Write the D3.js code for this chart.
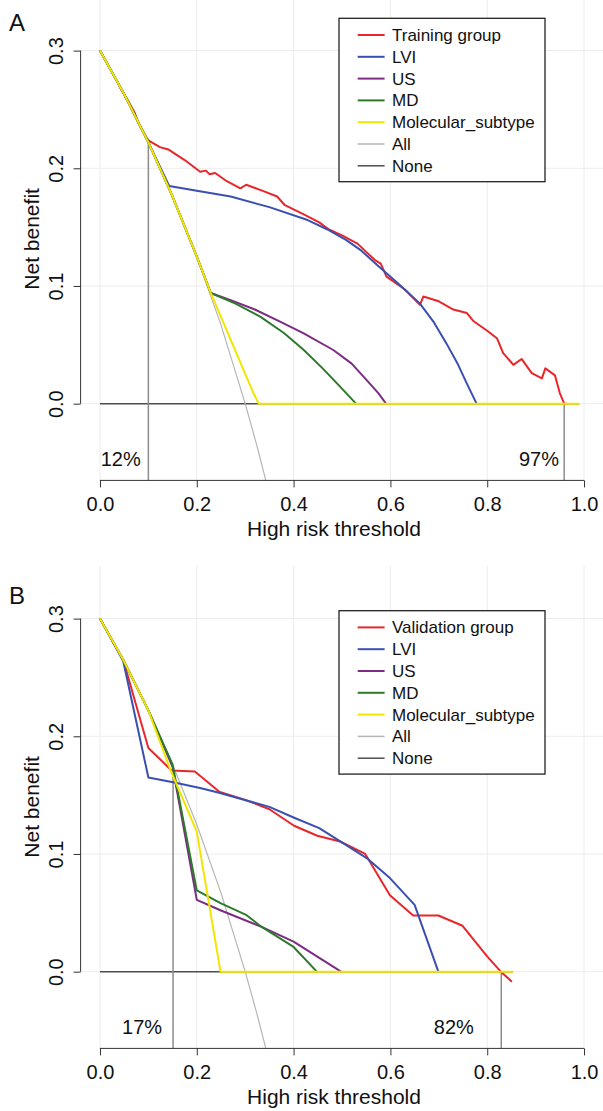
<!DOCTYPE html>
<html>
<head>
<meta charset="utf-8">
<script src="https://cdn.jsdelivr.net/npm/d3@7"></script>
<style>
  body { margin: 0; background: #fff; }
  svg { display: block; font-family: 'Liberation Sans', Arial, Helvetica, sans-serif; }
</style>
</head>
<body>
<svg id="chart"></svg>
<script>
const xTicks = [0, 0.2, 0.4, 0.6, 0.8, 1.0];
const yTicks = [0, 0.1, 0.2, 0.3];
const modelNames = ['LVI', 'US', 'MD', 'Molecular_subtype'];
const refNames = ['All', 'None'];

// panel A, training set  [threshold, net benefit]
const trainingA = [[0.041,0.269],[0.06,0.256],[0.072,0.247],[0.08,0.238],[0.099,0.224],[0.124,0.218],[0.141,0.216],[0.175,0.207],
  [0.207,0.197],[0.219,0.198],[0.226,0.195],[0.238,0.196],[0.262,0.189],[0.290,0.183],[0.302,0.186],[0.335,0.181],[0.366,0.176],
  [0.381,0.169],[0.42,0.161],[0.453,0.154],[0.473,0.148],[0.50,0.143],[0.532,0.136],[0.568,0.122],[0.580,0.119],[0.592,0.108],
  [0.63,0.097],[0.661,0.084],[0.668,0.091],[0.70,0.087],[0.730,0.080],[0.758,0.077],[0.772,0.070],[0.80,0.062],[0.820,0.0556],
  [0.833,0.043],[0.854,0.033],[0.871,0.038],[0.892,0.026],[0.913,0.0215],[0.920,0.030],[0.940,0.024],[0.950,0.009],[0.959,0],[0.965,0]];
const lviA = [[0,0.3],[0.05,0.263],[0.1,0.222],[0.143,0.185],[0.2,0.181],[0.27,0.176],[0.35,0.167],[0.429,0.156],[0.47,0.148],
  [0.509,0.139],[0.54,0.130],[0.572,0.118],[0.616,0.102],[0.661,0.085],[0.69,0.069],[0.716,0.051],[0.74,0.033],[0.758,0.017],[0.778,0]];
const usA = [[0,0.3],[0.05,0.263],[0.1,0.222],[0.15,0.176],[0.2,0.125],[0.229,0.094],[0.27,0.088],[0.32,0.080],[0.372,0.0697],
  [0.42,0.060],[0.482,0.0456],[0.52,0.034],[0.551,0.020],[0.575,0.009],[0.591,0]];
const mdA = [[0,0.3],[0.05,0.263],[0.1,0.222],[0.15,0.176],[0.2,0.125],[0.229,0.094],[0.28,0.085],[0.331,0.074],[0.38,0.060],
  [0.42,0.046],[0.46,0.030],[0.496,0.0145],[0.529,0]];
const molA = [[0,0.3],[0.05,0.263],[0.1,0.222],[0.15,0.176],[0.2,0.125],[0.229,0.094],[0.317,0.009],[0.328,0],[0.99,0]];
const allA = [[0,0.3],[0.05,0.263],[0.1,0.222],[0.15,0.176],[0.2,0.125],[0.25,0.067],[0.3,0],[0.325,-0.037],[0.35,-0.077]];
const noneA = [[0,0],[0.99,0]];
const cutA = [0.1, 0.959];
const cutTopA = [0.225, 0];
const cutLabelA = ['12%', '97%'];

// panel B, validation set
const validationB = [[0.048,0.265],[0.1,0.190],[0.148,0.171],[0.196,0.170],[0.246,0.153],[0.3,0.146],[0.35,0.138],[0.401,0.124],
  [0.449,0.1155],[0.496,0.1106],[0.548,0.100],[0.599,0.065],[0.647,0.0477],[0.699,0.0477],[0.749,0.039],[0.799,0.0134],
  [0.828,0],[0.851,-0.0085]];
const lviB = [[0,0.3],[0.048,0.264],[0.1,0.165],[0.151,0.161],[0.207,0.156],[0.246,0.152],[0.35,0.140],[0.4,0.131],[0.453,0.122],
  [0.503,0.109],[0.551,0.0965],[0.599,0.0795],[0.650,0.0568],[0.699,0]];
const usB = [[0,0.3],[0.048,0.265],[0.1,0.222],[0.15,0.174],[0.2,0.061],[0.25,0.052],[0.334,0.038],[0.4,0.0255],[0.498,0]];
const mdB = [[0,0.3],[0.048,0.265],[0.1,0.222],[0.15,0.176],[0.2,0.069],[0.25,0.058],[0.303,0.048],[0.334,0.038],[0.4,0.021],[0.448,0]];
const molB = [[0,0.3],[0.048,0.265],[0.1,0.222],[0.145,0.172],[0.2,0.119],[0.249,0],[0.853,0]];
const allB = [[0,0.3],[0.05,0.263],[0.1,0.222],[0.15,0.176],[0.2,0.125],[0.25,0.067],[0.3,0],[0.325,-0.037],[0.35,-0.077]];
const noneB = [[0,0],[0.853,0]];
const cutB = [0.151, 0.829];
const cutTopB = [0.169, 0];
const cutLabelB = ['17%', '82%'];

const colors = ['#e8262b', '#3a4fb2', '#7b2d83', '#2e7a2b', '#f2e600'];
const refColors = ['#b5b5b5', '#4d4d4d'];

const width = 603, height = 1111;
const svg = d3.select('#chart').attr('width', width).attr('height', height);

const x = d3.scaleLinear().domain([-0.04, 1.04]).range([80.6, 603.4]);

const panels = [
  { tag: 'A', group: 'Training group', series: [trainingA, lviA, usA, mdA, molA], all: allA, none: noneA,
    cuts: cutA, cutTops: cutTopA, cutLabels: cutLabelA, labelAt: [0.043, 0.907],
    top: -2.6, bottom: 480.4, legendTop: 18.3, tagY: 31 },
  { tag: 'B', group: 'Validation group', series: [validationB, lviB, usB, mdB, molB], all: allB, none: noneB,
    cuts: cutB, cutTops: cutTopB, cutLabels: cutLabelB, labelAt: [0.087, 0.731],
    top: 565.4, bottom: 1048.4, legendTop: 610.7, tagY: 604 }
];

const drawPanel = (p) => {
  const y = d3.scaleLinear().domain([-0.0652, 0.3452]).range([p.bottom, p.top]);
  const line = d3.line().x(d => x(d[0])).y(d => y(d[1]));
  const g = svg.append('g');

  g.append('clipPath').attr('id', 'clip-' + p.tag)
   .append('rect')
   .attr('x', x.range()[0]).attr('y', p.top)
   .attr('width', x.range()[1] - x.range()[0]).attr('height', p.bottom - p.top);

  // grid
  g.selectAll('.vgrid').data(xTicks).enter().append('line')
   .attr('x1', d => x(d)).attr('x2', d => x(d))
   .attr('y1', Math.max(p.top, 0)).attr('y2', p.bottom)
   .attr('stroke', '#ececec').attr('stroke-width', 1);
  g.selectAll('.hgrid').data(yTicks).enter().append('line')
   .attr('x1', x.range()[0]).attr('x2', x.range()[1])
   .attr('y1', d => y(d)).attr('y2', d => y(d))
   .attr('stroke', '#ececec').attr('stroke-width', 1);

  const plot = g.append('g').attr('clip-path', `url(#clip-${p.tag})`);

  plot.append('path').datum(p.none)
      .attr('d', line).attr('fill', 'none')
      .attr('stroke', refColors[1]).attr('stroke-width', 1.5);
  plot.append('path').datum(p.all)
      .attr('d', line).attr('fill', 'none')
      .attr('stroke', refColors[0]).attr('stroke-width', 1.2);

  plot.selectAll('.cut').data(p.cuts).enter().append('line')
      .attr('x1', d => x(d)).attr('x2', d => x(d))
      .attr('y1', (d, i) => y(p.cutTops[i])).attr('y2', p.bottom)
      .attr('stroke', '#8c8c8c').attr('stroke-width', 1.5);

  plot.selectAll('.curve').data(p.series).enter().append('path')
      .attr('d', line).attr('fill', 'none')
      .attr('stroke', (d, i) => colors[i])
      .attr('stroke-width', 2)
      .attr('stroke-linejoin', 'round');

  // axes
  const xAxis = g.append('g')
     .attr('transform', `translate(0, ${p.bottom})`)
     .call(d3.axisBottom(x).tickValues(xTicks).tickFormat(d3.format('.1f')).tickSize(7).tickPadding(9));
  xAxis.select('.domain').remove();
  xAxis.append('line').attr('x1', x(0)).attr('x2', x(1)).attr('stroke', '#333');
  xAxis.selectAll('.tick line').attr('stroke', '#333');
  xAxis.selectAll('text').attr('font-size', 20).attr('fill', '#111')
       .attr('font-family', "'Liberation Sans', Arial, sans-serif");

  const yAxis = g.append('g')
     .attr('transform', `translate(${x.range()[0]}, 0)`)
     .call(d3.axisLeft(y).tickValues(yTicks).tickFormat(d3.format('.1f')).tickSize(7));
  yAxis.select('.domain').remove();
  yAxis.append('line').attr('y1', y(0)).attr('y2', y(0.3)).attr('stroke', '#333');
  yAxis.selectAll('.tick line').attr('stroke', '#333');
  yAxis.selectAll('text')
       .attr('x', 0).attr('dy', 0)
       .attr('transform', 'translate(-18,0) rotate(-90)')
       .attr('text-anchor', 'middle')
       .attr('font-size', 20).attr('fill', '#111')
       .attr('font-family', "'Liberation Sans', Arial, sans-serif");

  // titles
  g.append('text').text('High risk threshold')
   .attr('x', 334).attr('y', p.bottom + 56)
   .attr('text-anchor', 'middle').attr('font-size', 21).attr('fill', '#111');
  g.append('text').text('Net benefit')
   .attr('transform', `translate(39, ${(Math.max(p.top, -2.6) + p.bottom) / 2}) rotate(-90)`)
   .attr('text-anchor', 'middle').attr('font-size', 21).attr('fill', '#111');
  g.append('text').text(p.tag)
   .attr('x', 17).attr('y', p.tagY)
   .attr('text-anchor', 'middle').attr('font-size', 24).attr('fill', '#111');

  g.selectAll('.cutlabel').data(p.cutLabels).enter().append('text')
   .text(d => d)
   .attr('x', (d, i) => x(p.labelAt[i]))
   .attr('y', p.bottom - 14)
   .attr('text-anchor', 'middle').attr('font-size', 20).attr('fill', '#111');

  // legend
  const names = [p.group].concat(modelNames, refNames);
  const legendColors = colors.concat(refColors);
  const lg = g.append('g').attr('transform', `translate(339, ${p.legendTop})`);
  lg.append('rect').attr('width', 206).attr('height', 163.4)
    .attr('fill', '#fff').attr('stroke', '#222').attr('stroke-width', 1.3);
  const item = lg.selectAll('.item').data(names).enter().append('g')
    .attr('transform', (d, i) => `translate(0, ${16.7 + i * 21.8})`);
  item.append('line').attr('x1', 18.7).attr('x2', 45.6)
    .attr('stroke', (d, i) => legendColors[i])
    .attr('stroke-width', (d, i) => i < 5 ? 2 : 1.5);
  item.append('text').text(d => d)
    .attr('x', 53).attr('y', 6)
    .attr('font-size', 17).attr('fill', '#111');
};

panels.forEach(drawPanel);
</script>
</body>
</html>
